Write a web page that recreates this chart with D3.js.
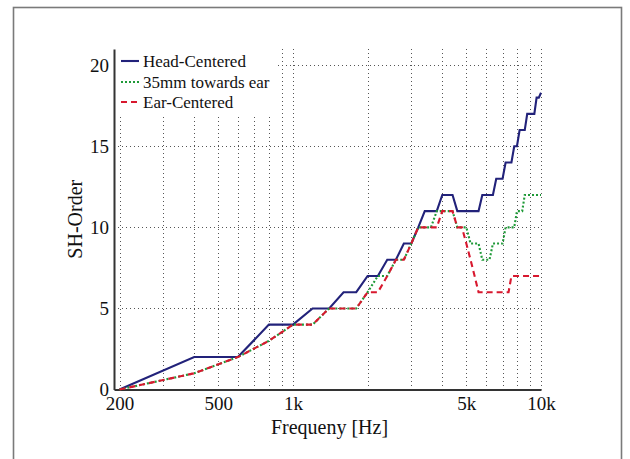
<!DOCTYPE html>
<html>
<head>
<meta charset="utf-8">
<script src="https://cdn.jsdelivr.net/npm/d3@7"></script>
<style>
  html, body { margin: 0; padding: 0; background: #fff; }
  svg { display: block; }
  text { font-family: "Liberation Serif", "Times New Roman", serif; fill: #111; }
</style>
</head>
<body>
<svg id="chart" width="630" height="459"></svg>
<script>
// Frequency grid (Hz), sampled every 200 Hz
const frequencies = [200, 400, 600, 800, 1000, 1200, 1400, 1600, 1800, 2000,
  2200, 2400, 2600, 2800, 3000, 3200, 3400, 3600, 3800, 4000,
  4200, 4400, 4600, 4800, 5000, 5200, 5400, 5600, 5800, 6000,
  6200, 6400, 6600, 6800, 7000, 7200, 7400, 7600, 7800, 8000,
  8200, 8400, 8600, 8800, 9000, 9200, 9400, 9600, 9800, 10000];

// Required SH order per frequency
const headCentered = [0, 2, 2, 4, 4, 5, 5, 6, 6, 7,
  7, 8, 8, 9, 9, 10, 11, 11, 11, 12,
  12, 12, 11, 11, 11, 11, 11, 11, 12, 12,
  12, 12, 13, 13, 13, 14, 14, 14, 15, 15,
  16, 16, 16, 17, 17, 17, 17, 18, 18, 18.3];

const towardsEar35mm = [0, 1, 2, 3, 4, 4, 5, 5, 5, 6,
  7, 7, 8, 8, 9, 10, 10, 10, 11, 11,
  11, 11, 10, 10, 10, 9, 9, 9, 8, 8,
  8, 9, 9, 9, 9, 10, 10, 10, 10, 11,
  11, 11, 12, 12, 12, 12, 12, 12, 12, 12];

const earCentered = [0, 1, 2, 3, 4, 4, 5, 5, 5, 6,
  6, 7, 8, 8, 9, 10, 10, 10, 10, 11,
  11, 11, 10, 10, 9, 8, 7, 6, 6, 6,
  6, 6, 6, 6, 6, 6, 6, 7, 7, 7,
  7, 7, 7, 7, 7, 7, 7, 7, 7, 7];

const seriesNames = ["Head-Centered", "35mm towards ear", "Ear-Centered"];
const seriesColors = ["#22227a", "#1f9a38", "#d8182e"];
const seriesDash = [null, "2,2", "6,4"];

const xTickValues = [200, 500, 1000, 5000, 10000];
const xTickLabels = ["200", "500", "1k", "5k", "10k"];
const yTickValues = [0, 5, 10, 15, 20];

const xLabel = "Frequeny [Hz]";
const yLabel = "SH-Order";

// Layout
const plot = { left: 114, right: 541, top: 49, bottom: 389.5 };

const svg = d3.select("#chart");

// Figure frame
svg.append("rect")
  .attr("x", 13.5).attr("y", 7.5)
  .attr("width", 608).attr("height", 470)
  .attr("fill", "none").attr("stroke", "#7a7a7a").attr("stroke-width", 1.6);

const x = d3.scaleLog().domain([190, 10000]).range([plot.left, plot.right]);
const y = d3.scaleLinear().domain([0, 21]).range([plot.bottom, plot.top]);

// Grid: every decade subdivision vertically, major y ticks horizontally
const gridX = x.ticks().filter(v => v >= 200 && v <= 10000);
const grid = svg.append("g").attr("stroke", "#555").attr("stroke-width", 1)
  .attr("stroke-dasharray", "1,3");
grid.selectAll("line.v").data(gridX).join("line")
  .attr("class", "v")
  .attr("x1", d => Math.round(x(d)) + 0.5).attr("x2", d => Math.round(x(d)) + 0.5)
  .attr("y1", plot.top).attr("y2", plot.bottom);
grid.selectAll("line.h").data(yTickValues.filter(v => v > 0)).join("line")
  .attr("class", "h")
  .attr("x1", plot.left).attr("x2", plot.right)
  .attr("y1", d => Math.round(y(d)) + 0.5).attr("y2", d => Math.round(y(d)) + 0.5);

// Legend background masks the grid
const legendBox = { x: 115, y: plot.top, w: 161, h: 67 };
svg.append("rect")
  .attr("x", legendBox.x).attr("y", legendBox.y)
  .attr("width", legendBox.w).attr("height", legendBox.h)
  .attr("fill", "#fff");

// Axes
const xAxis = d3.axisBottom(x)
  .tickValues(xTickValues)
  .tickFormat((d, i) => xTickLabels[i])
  .tickSize(0).tickPadding(7);
const yAxis = d3.axisLeft(y)
  .tickValues(yTickValues)
  .tickFormat(d3.format("d"))
  .tickSize(0).tickPadding(5);

const gx = svg.append("g").attr("transform", `translate(0,${plot.bottom})`).call(xAxis);
const gy = svg.append("g").attr("transform", `translate(${plot.left},0)`).call(yAxis);
[gx, gy].forEach(g => {
  g.select(".domain").attr("stroke", "#333").attr("stroke-width", 2);
  g.selectAll("text").attr("font-size", 19)
    .attr("font-family", "'Liberation Serif', 'Times New Roman', serif").attr("fill", "#111");
});

// Curves
const allSeries = [headCentered, towardsEar35mm, earCentered];
const line = d3.line().x((d, i) => x(frequencies[i])).y(d => y(d));
const curves = svg.append("g");
allSeries.forEach((vals, k) => {
  curves.append("path")
    .datum(vals)
    .attr("d", line)
    .attr("fill", "none")
    .attr("stroke", seriesColors[k])
    .attr("stroke-width", 2.1)
    .attr("stroke-dasharray", seriesDash[k])
    .attr("stroke-linejoin", "miter");
});

// Legend entries
const legendRows = [61, 82, 102];
seriesNames.forEach((name, k) => {
  svg.append("line")
    .attr("x1", 121).attr("x2", 139)
    .attr("y1", legendRows[k]).attr("y2", legendRows[k])
    .attr("stroke", seriesColors[k]).attr("stroke-width", 2.1)
    .attr("stroke-dasharray", seriesDash[k]);
  svg.append("text")
    .attr("x", 143).attr("y", legendRows[k])
    .attr("dy", "0.35em")
    .attr("font-size", 17)
    .text(name);
});

// Axis titles
svg.append("text")
  .attr("x", (plot.left + plot.right) / 2 + 2).attr("y", 434)
  .attr("text-anchor", "middle").attr("font-size", 20)
  .text(xLabel);
svg.append("text")
  .attr("transform", `translate(82,${(plot.top + plot.bottom) / 2}) rotate(-90)`)
  .attr("text-anchor", "middle").attr("font-size", 20)
  .text(yLabel);
</script>
</body>
</html>
